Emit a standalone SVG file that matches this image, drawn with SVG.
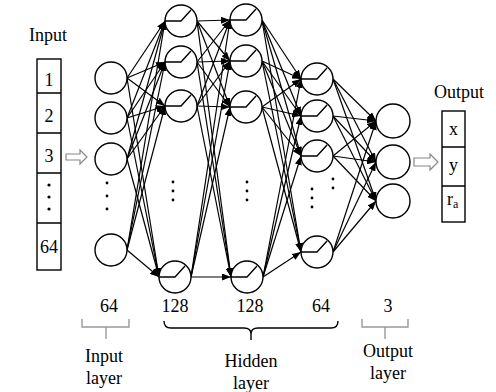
<svg xmlns="http://www.w3.org/2000/svg" width="496" height="392" viewBox="0 0 496 392">
<style>
text{font-family:"Liberation Serif","Times New Roman",serif;font-size:18px;fill:#000}
.n{fill:#fff;stroke:#000;stroke-width:1.4}
.a{fill:none;stroke:#000;stroke-width:1.4}
.c line{stroke:#000;stroke-width:1.2;marker-end:url(#ah)}
.box{fill:#fff;stroke:#000;stroke-width:1.4}
.hol{fill:#fff;stroke:#888;stroke-width:1.2}
.gb{fill:none;stroke:#999;stroke-width:1.4}
.bb{fill:none;stroke:#000;stroke-width:1.4}
.dot{fill:#000}
</style>
<defs>
<marker id="ah" markerUnits="userSpaceOnUse" markerWidth="9" markerHeight="7" refX="9" refY="3.5" orient="auto">
<path d="M0,0 L9,3.5 L0,7 Z" fill="#000"/>
</marker>
<circle id="relu" r="16"/>
</defs>

<g id="connectors" class="c">
<!-- input -> hidden1 -->
<line x1="127" y1="78" x2="165" y2="21"/><line x1="127" y1="78" x2="165" y2="62"/><line x1="127" y1="78" x2="165" y2="106"/><line x1="127" y1="78" x2="159" y2="277"/>
<line x1="127" y1="118" x2="165" y2="21"/><line x1="127" y1="118" x2="165" y2="62"/><line x1="127" y1="118" x2="165" y2="106"/><line x1="127" y1="118" x2="159" y2="277"/>
<line x1="127" y1="159" x2="165" y2="21"/><line x1="127" y1="159" x2="165" y2="62"/><line x1="127" y1="159" x2="165" y2="106"/><line x1="127" y1="159" x2="159" y2="277"/>
<line x1="127" y1="250" x2="165" y2="21"/><line x1="127" y1="250" x2="165" y2="62"/><line x1="127" y1="250" x2="165" y2="106"/><line x1="127" y1="250" x2="159" y2="277"/>
<!-- hidden1 -> hidden2 -->
<line x1="197" y1="21" x2="230" y2="20"/><line x1="197" y1="21" x2="230" y2="61"/><line x1="197" y1="21" x2="230" y2="107"/><line x1="197" y1="21" x2="231" y2="277"/>
<line x1="197" y1="62" x2="230" y2="20"/><line x1="197" y1="62" x2="230" y2="61"/><line x1="197" y1="62" x2="230" y2="107"/><line x1="197" y1="62" x2="231" y2="277"/>
<line x1="197" y1="106" x2="230" y2="20"/><line x1="197" y1="106" x2="230" y2="61"/><line x1="197" y1="106" x2="230" y2="107"/><line x1="197" y1="106" x2="231" y2="277"/>
<line x1="191" y1="277" x2="230" y2="20"/><line x1="191" y1="277" x2="230" y2="61"/><line x1="191" y1="277" x2="230" y2="107"/><line x1="191" y1="277" x2="231" y2="277"/>
<!-- hidden2 -> hidden3 -->
<line x1="262" y1="20" x2="301" y2="79"/><line x1="262" y1="20" x2="301" y2="116"/><line x1="262" y1="20" x2="301" y2="156"/><line x1="262" y1="20" x2="301" y2="252"/>
<line x1="262" y1="61" x2="301" y2="79"/><line x1="262" y1="61" x2="301" y2="116"/><line x1="262" y1="61" x2="301" y2="156"/><line x1="262" y1="61" x2="301" y2="252"/>
<line x1="262" y1="107" x2="301" y2="79"/><line x1="262" y1="107" x2="301" y2="116"/><line x1="262" y1="107" x2="301" y2="156"/><line x1="262" y1="107" x2="301" y2="252"/>
<line x1="263" y1="277" x2="301" y2="79"/><line x1="263" y1="277" x2="301" y2="116"/><line x1="263" y1="277" x2="301" y2="156"/><line x1="263" y1="277" x2="301" y2="252"/>
<!-- hidden3 -> output -->
<line x1="333" y1="79" x2="376" y2="121"/><line x1="333" y1="79" x2="376" y2="162"/><line x1="333" y1="79" x2="376" y2="201"/>
<line x1="333" y1="116" x2="376" y2="121"/><line x1="333" y1="116" x2="376" y2="162"/><line x1="333" y1="116" x2="376" y2="201"/>
<line x1="333" y1="156" x2="376" y2="121"/><line x1="333" y1="156" x2="376" y2="162"/><line x1="333" y1="156" x2="376" y2="201"/>
<line x1="333" y1="252" x2="376" y2="121"/><line x1="333" y1="252" x2="376" y2="162"/><line x1="333" y1="252" x2="376" y2="201"/>
</g>

<g id="input-vector">
<text x="48" y="41" text-anchor="middle">Input</text>
<rect class="box" x="37" y="59" width="24" height="211"/>
<path class="a" d="M37,93 H61 M37,133 H61 M37,173 H61 M37,223 H61"/>
<text x="49" y="86" text-anchor="middle">1</text>
<text x="49" y="122" text-anchor="middle">2</text>
<text x="49" y="162" text-anchor="middle">3</text>
<circle class="dot" cx="49" cy="185" r="1.6"/><circle class="dot" cx="49" cy="197" r="1.6"/><circle class="dot" cx="49" cy="209" r="1.6"/>
<text x="49" y="253" text-anchor="middle">64</text>
</g>
<path id="in-arrow" class="hol" d="M66,154 H80 V150 L87,157 L80,164 V160 H66 Z"/>

<g id="input-layer">
<circle class="n" cx="111" cy="78" r="16"/>
<circle class="n" cx="111" cy="118" r="16"/>
<circle class="n" cx="111" cy="159" r="16"/>
<circle class="n" cx="111" cy="250" r="16"/>
<circle class="dot" cx="107" cy="183" r="1.4"/><circle class="dot" cx="107" cy="196" r="1.4"/><circle class="dot" cx="107" cy="209" r="1.4"/>
</g>

<g id="hidden-layer-1">
<circle class="n" cx="181" cy="21" r="16"/><path class="a" d="M165,21 H181 L191,10"/>
<circle class="n" cx="181" cy="62" r="16"/><path class="a" d="M165,62 H181 L191,51"/>
<circle class="n" cx="181" cy="106" r="16"/><path class="a" d="M165,106 H181 L191,95"/>
<circle class="n" cx="175" cy="277" r="16"/><path class="a" d="M159,277 H175 L185,266"/>
<circle class="dot" cx="173" cy="182" r="1.4"/><circle class="dot" cx="173" cy="191" r="1.4"/><circle class="dot" cx="173" cy="200" r="1.4"/>
</g>

<g id="hidden-layer-2">
<circle class="n" cx="246" cy="20" r="16"/><path class="a" d="M230,20 H246 L256,9"/>
<circle class="n" cx="246" cy="61" r="16"/><path class="a" d="M230,61 H246 L256,50"/>
<circle class="n" cx="246" cy="107" r="16"/><path class="a" d="M230,107 H246 L256,96"/>
<circle class="n" cx="247" cy="277" r="16"/><path class="a" d="M231,277 H247 L257,266"/>
<circle class="dot" cx="247" cy="182" r="1.4"/><circle class="dot" cx="247" cy="191" r="1.4"/><circle class="dot" cx="247" cy="200" r="1.4"/>
</g>

<g id="hidden-layer-3">
<circle class="n" cx="317" cy="79" r="16"/><path class="a" d="M301,79 H317 L327,68"/>
<circle class="n" cx="317" cy="116" r="16"/><path class="a" d="M301,116 H317 L327,105"/>
<circle class="n" cx="317" cy="156" r="16"/><path class="a" d="M301,156 H317 L327,145"/>
<circle class="n" cx="317" cy="252" r="16"/><path class="a" d="M301,252 H317 L327,241"/>
<circle class="dot" cx="312" cy="189" r="1.4"/><circle class="dot" cx="312" cy="198" r="1.4"/><circle class="dot" cx="312" cy="207" r="1.4"/>
<circle class="dot" cx="333" cy="179" r="1.4"/><circle class="dot" cx="333" cy="188" r="1.4"/>
</g>

<g id="output-layer">
<circle class="n" cx="393" cy="121" r="17"/>
<circle class="n" cx="393" cy="162" r="17"/>
<circle class="n" cx="393" cy="201" r="17"/>
</g>
<path id="out-arrow" class="hol" d="M414,158 H430 V154 L438,162 L430,170 V166 H414 Z"/>

<g id="output-vector">
<text x="459" y="98" text-anchor="middle">Output</text>
<rect class="box" x="442" y="111" width="23" height="111"/>
<path class="a" d="M442,147 H465 M442,186 H465"/>
<text x="453.5" y="135" text-anchor="middle">x</text>
<text x="453.5" y="171" text-anchor="middle">y</text>
<text x="447" y="205">r<tspan font-size="12" dy="3">a</tspan></text>
</g>

<g id="labels">
<text x="109" y="312" text-anchor="middle">64</text>
<text x="175" y="312" text-anchor="middle">128</text>
<text x="250" y="312" text-anchor="middle">128</text>
<text x="321" y="312" text-anchor="middle">64</text>
<text x="388" y="312" text-anchor="middle">3</text>
<path class="gb" d="M82,319 V327 H129 V319 M106,327 V339"/>
<path class="bb" d="M164,321 Q164,328 171,328 H244 Q251,328 251,334 Q251,328 258,328 H331 Q338,328 338,321 M251,332 V340"/>
<path class="gb" d="M362,319 V327 H408 V319 M385,327 V339"/>
<text x="104" y="362" text-anchor="middle">Input</text>
<text x="104" y="384" text-anchor="middle">layer</text>
<text x="251" y="367" text-anchor="middle">Hidden</text>
<text x="251" y="389" text-anchor="middle">layer</text>
<text x="388" y="357" text-anchor="middle">Output</text>
<text x="388" y="379" text-anchor="middle">layer</text>
</g>
</svg>
